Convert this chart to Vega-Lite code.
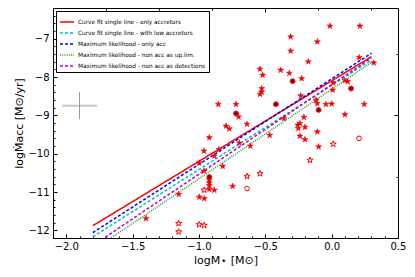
{
  "$schema": "https://vega.github.io/schema/vega-lite/v6.json",
  "width": 345,
  "height": 230,
  "autosize": {"type": "none"},
  "padding": {"left": 53, "top": 8, "right": 17, "bottom": 39},
  "config": {
    "font": "DejaVu Sans",
    "view": {"stroke": "#000", "strokeWidth": 1},
    "axis": {"grid": false, "domain": false, "tickColor": "#000", "tickWidth": 1, "labelColor": "#000", "titleColor": "#000", "labelFontSize": 10, "titleFontSize": 11, "titleFontWeight": "normal", "labelOverlap": false, "labelFlush": false, "labelBound": false},
    "legend": {"orient": "top-left", "offset": 3, "padding": 3, "strokeColor": "#000", "fillColor": "#fff", "labelFontSize": 5.8, "labelColor": "#000", "symbolSize": 196, "symbolStrokeWidth": 1.5, "rowPadding": -5, "labelOffset": 3, "cornerRadius": 0}
  },
  "datasets": {
    "lines": [
      {"series": "Curve fit single line - only accretors", "x": -1.8, "y": -11.88},
      {"series": "Curve fit single line - only accretors", "x": 0.3, "y": -7.47},
      {"series": "Curve fit single line - with low accretors", "x": -1.8, "y": -12.17},
      {"series": "Curve fit single line - with low accretors", "x": 0.3, "y": -7.56},
      {"series": "Maximum likelihood - only acc", "x": -1.8, "y": -12.06},
      {"series": "Maximum likelihood - only acc", "x": 0.3, "y": -7.38},
      {"series": "Maximum likelihood - non acc as up.lim.", "x": -1.8, "y": -12.52},
      {"series": "Maximum likelihood - non acc as up.lim.", "x": 0.3, "y": -7.62},
      {"series": "Maximum likelihood - non acc as detections", "x": -1.8, "y": -12.4},
      {"series": "Maximum likelihood - non acc as detections", "x": 0.3, "y": -7.5}
    ],
    "err": [
      {"x": -1.9, "y": -8.75, "xlo": -2.032, "xhi": -1.768, "ylo": -9.1, "yhi": -8.39}
    ],
    "pts": [
      {"kind": "acc", "x": -0.854, "y": -8.71},
      {"kind": "acc", "x": -0.721, "y": -8.71},
      {"kind": "acc", "x": -0.701, "y": -9.04},
      {"kind": "acc", "x": -0.638, "y": -9.23},
      {"kind": "acc", "x": -0.796, "y": -9.28},
      {"kind": "acc", "x": -0.771, "y": -9.35},
      {"kind": "acc", "x": -0.922, "y": -9.58},
      {"kind": "acc", "x": -0.696, "y": -9.72},
      {"kind": "acc", "x": -0.962, "y": -9.93},
      {"kind": "acc", "x": -0.849, "y": -9.89},
      {"kind": "acc", "x": -0.613, "y": -9.8},
      {"kind": "acc", "x": -0.467, "y": -9.52},
      {"kind": "acc", "x": -0.884, "y": -10.06},
      {"kind": "acc", "x": -0.998, "y": -10.24},
      {"kind": "acc", "x": -0.821, "y": -10.33},
      {"kind": "acc", "x": -0.962, "y": -10.45},
      {"kind": "acc", "x": -0.922, "y": -10.69},
      {"kind": "acc", "x": -0.922, "y": -10.76},
      {"kind": "acc", "x": -0.922, "y": -10.83},
      {"kind": "acc", "x": -0.922, "y": -10.93},
      {"kind": "acc", "x": -0.884, "y": -10.95},
      {"kind": "acc", "x": -0.746, "y": -10.85},
      {"kind": "acc", "x": -1.153, "y": -11.06},
      {"kind": "acc", "x": -0.998, "y": -11.13},
      {"kind": "acc", "x": -0.96, "y": -11.17},
      {"kind": "acc", "x": -1.399, "y": -11.69},
      {"kind": "acc", "x": -0.013, "y": -6.67},
      {"kind": "acc", "x": 0.213, "y": -6.67},
      {"kind": "acc", "x": -0.309, "y": -6.95},
      {"kind": "acc", "x": -0.108, "y": -7.08},
      {"kind": "acc", "x": -0.309, "y": -7.32},
      {"kind": "acc", "x": 0.208, "y": -7.49},
      {"kind": "acc", "x": -0.176, "y": -7.6},
      {"kind": "acc", "x": 0.317, "y": -7.63},
      {"kind": "acc", "x": -0.54, "y": -7.79},
      {"kind": "acc", "x": -0.384, "y": -7.82},
      {"kind": "acc", "x": -0.319, "y": -7.9},
      {"kind": "acc", "x": -0.52, "y": -7.95},
      {"kind": "acc", "x": -0.226, "y": -8.04},
      {"kind": "acc", "x": 0.1, "y": -8.09},
      {"kind": "acc", "x": 0.121, "y": -8.12},
      {"kind": "acc", "x": 0.012, "y": -8.15},
      {"kind": "acc", "x": -0.527, "y": -8.3},
      {"kind": "acc", "x": -0.527, "y": -8.39},
      {"kind": "acc", "x": -0.54, "y": -8.45},
      {"kind": "acc", "x": 0.008, "y": -8.34},
      {"kind": "acc", "x": -0.233, "y": -8.49},
      {"kind": "acc", "x": -0.118, "y": -8.6},
      {"kind": "acc", "x": -0.108, "y": -8.69},
      {"kind": "acc", "x": -0.043, "y": -8.71},
      {"kind": "acc", "x": 0.0, "y": -8.7},
      {"kind": "acc", "x": 0.246, "y": -8.71},
      {"kind": "acc", "x": -0.359, "y": -9.08},
      {"kind": "acc", "x": -0.209, "y": -9.05},
      {"kind": "acc", "x": 0.1, "y": -8.98},
      {"kind": "acc", "x": -0.239, "y": -9.21},
      {"kind": "acc", "x": -0.256, "y": -9.25},
      {"kind": "acc", "x": -0.201, "y": -9.31},
      {"kind": "acc", "x": -0.251, "y": -9.34},
      {"kind": "acc", "x": -0.108, "y": -9.43},
      {"kind": "acc", "x": -0.239, "y": -9.54},
      {"kind": "acc", "x": -0.201, "y": -9.63},
      {"kind": "acc", "x": -0.098, "y": -9.82},
      {"kind": "low", "x": -0.96, "y": -10.95},
      {"kind": "low", "x": -0.638, "y": -10.59},
      {"kind": "low", "x": -0.54, "y": -10.52},
      {"kind": "low", "x": -1.153, "y": -11.82},
      {"kind": "low", "x": -1.153, "y": -12.04},
      {"kind": "low", "x": -0.998, "y": -11.85},
      {"kind": "low", "x": -0.96, "y": -11.87},
      {"kind": "low", "x": 0.012, "y": -9.75},
      {"kind": "low", "x": -0.163, "y": -10.17},
      {"kind": "circ", "x": -0.721, "y": -8.95},
      {"kind": "circ", "x": -0.922, "y": -10.61},
      {"kind": "circ", "x": -0.294, "y": -8.11},
      {"kind": "circ", "x": 0.146, "y": -8.3},
      {"kind": "circ", "x": -0.42, "y": -8.71},
      {"kind": "circ", "x": -0.098, "y": -8.86},
      {"kind": "ocirc", "x": -0.638, "y": -10.91},
      {"kind": "ocirc", "x": 0.206, "y": -9.6}
    ]
  },
  "layer": [
    {
      "data": {"name": "lines"},
      "mark": {"type": "line", "clip": true, "strokeWidth": 1.5},
      "encoding": {
        "x": {"field": "x", "type": "quantitative", "scale": {"domain": [-2.1, 0.5], "nice": false, "zero": false},
          "axis": {"orient": "bottom", "title": "logM⋆ [M⊙]", "values": [-2.1,-2.0,-1.9,-1.8,-1.7,-1.6,-1.5,-1.4,-1.3,-1.2,-1.1,-1.0,-0.9,-0.8,-0.7,-0.6,-0.5,-0.4,-0.3,-0.2,-0.1,0,0.1,0.2,0.3,0.4,0.5],
            "labelExpr": "abs(datum.value*2-round(datum.value*2))<0.001 ? format(datum.value,'.1f') : ''",
            "tickSize": {"condition": {"test": "abs(datum.value*2-round(datum.value*2))<0.001", "value": -4}, "value": -2},
            "labelPadding": 7, "titlePadding": 1}},
        "y": {"field": "y", "type": "quantitative", "scale": {"domain": [-12.2, -6.2], "nice": false, "zero": false},
          "axis": {"orient": "left", "title": "logṀacc [M⊙/yr]", "values": [-12.2,-12.0,-11.8,-11.6,-11.4,-11.2,-11.0,-10.8,-10.6,-10.4,-10.2,-10.0,-9.8,-9.6,-9.4,-9.2,-9.0,-8.8,-8.6,-8.4,-8.2,-8.0,-7.8,-7.6,-7.4,-7.2,-7.0,-6.8,-6.6,-6.4,-6.2],
            "labelExpr": "abs(datum.value-round(datum.value))<0.001 ? format(datum.value,'.0f') : ''",
            "tickSize": {"condition": {"test": "abs(datum.value-round(datum.value))<0.001", "value": -4}, "value": -2},
            "labelPadding": 8, "titlePadding": 3}},
        "color": {"field": "series", "type": "nominal", "legend": {"title": null},
          "scale": {"domain": ["Curve fit single line - only accretors", "Curve fit single line - with low accretors", "Maximum likelihood - only acc", "Maximum likelihood - non acc as up.lim.", "Maximum likelihood - non acc as detections"],
            "range": ["#ff0000", "#00bfbf", "#0000ff", "#22a022", "#bf00bf"]}},
        "strokeDash": {"field": "series", "type": "nominal", "legend": {"title": null},
          "scale": {"domain": ["Curve fit single line - only accretors", "Curve fit single line - with low accretors", "Maximum likelihood - only acc", "Maximum likelihood - non acc as up.lim.", "Maximum likelihood - non acc as detections"],
            "range": [[1, 0], [3, 2], [3, 2], [1, 1.2], [3, 2]]}}
      }
    },
    {
      "layer": [
        {
          "data": {"name": "err"},
          "mark": {"type": "rule", "color": "#c8c8c8", "strokeWidth": 2},
          "encoding": {
            "x": {"field": "xlo", "type": "quantitative",
              "axis": {"orient": "top", "title": null, "labels": false, "values": [-2.1,-2.0,-1.9,-1.8,-1.7,-1.6,-1.5,-1.4,-1.3,-1.2,-1.1,-1.0,-0.9,-0.8,-0.7,-0.6,-0.5,-0.4,-0.3,-0.2,-0.1,0,0.1,0.2,0.3,0.4,0.5],
                "tickSize": {"condition": {"test": "abs(datum.value*2-round(datum.value*2))<0.001", "value": -4}, "value": -2}}},
            "x2": {"field": "xhi"},
            "y": {"field": "y", "type": "quantitative",
              "axis": {"orient": "right", "title": null, "labels": false, "values": [-12.2,-12.0,-11.8,-11.6,-11.4,-11.2,-11.0,-10.8,-10.6,-10.4,-10.2,-10.0,-9.8,-9.6,-9.4,-9.2,-9.0,-8.8,-8.6,-8.4,-8.2,-8.0,-7.8,-7.6,-7.4,-7.2,-7.0,-6.8,-6.6,-6.4,-6.2],
                "tickSize": {"condition": {"test": "abs(datum.value-round(datum.value))<0.001", "value": -4}, "value": -2}}}
          }
        },
        {
          "data": {"name": "err"},
          "mark": {"type": "rule", "color": "#999999", "strokeWidth": 1},
          "encoding": {
            "x": {"field": "x", "type": "quantitative"},
            "y": {"field": "ylo", "type": "quantitative"},
            "y2": {"field": "yhi"}
          }
        },
        {
          "data": {"name": "pts"},
          "transform": [{"filter": "datum.kind == 'acc'"}],
          "mark": {"type": "point", "filled": true, "shape": "M0,-1L0.225,-0.309L0.951,-0.309L0.363,0.118L0.588,0.809L0,0.382L-0.588,0.809L-0.363,0.118L-0.951,-0.309L-0.225,-0.309Z", "size": 40, "fill": "#ff0000", "stroke": "#e00000", "strokeWidth": 0.5, "opacity": 1},
          "encoding": {"x": {"field": "x", "type": "quantitative"}, "y": {"field": "y", "type": "quantitative"}}
        },
        {
          "data": {"name": "pts"},
          "transform": [{"filter": "datum.kind == 'low'"}],
          "mark": {"type": "point", "filled": false, "shape": "M0,-1L0.225,-0.309L0.951,-0.309L0.363,0.118L0.588,0.809L0,0.382L-0.588,0.809L-0.363,0.118L-0.951,-0.309L-0.225,-0.309Z", "size": 40, "fill": "#ffffff", "fillOpacity": 1, "stroke": "#ff0000", "strokeWidth": 1, "opacity": 1},
          "encoding": {"x": {"field": "x", "type": "quantitative"}, "y": {"field": "y", "type": "quantitative"}}
        },
        {
          "data": {"name": "pts"},
          "transform": [{"filter": "datum.kind == 'circ'"}],
          "mark": {"type": "point", "shape": "circle", "size": 24, "fill": "#990000", "fillOpacity": 1, "stroke": "#ff0000", "strokeWidth": 0.8, "opacity": 1},
          "encoding": {"x": {"field": "x", "type": "quantitative"}, "y": {"field": "y", "type": "quantitative"}}
        },
        {
          "data": {"name": "pts"},
          "transform": [{"filter": "datum.kind == 'ocirc'"}],
          "mark": {"type": "point", "shape": "circle", "size": 22, "fill": "#ffffff", "fillOpacity": 1, "stroke": "#ff0000", "strokeWidth": 1, "opacity": 1},
          "encoding": {"x": {"field": "x", "type": "quantitative"}, "y": {"field": "y", "type": "quantitative"}}
        }
      ]
    }
  ],
  "resolve": {"axis": {"x": "independent", "y": "independent"}}
}
